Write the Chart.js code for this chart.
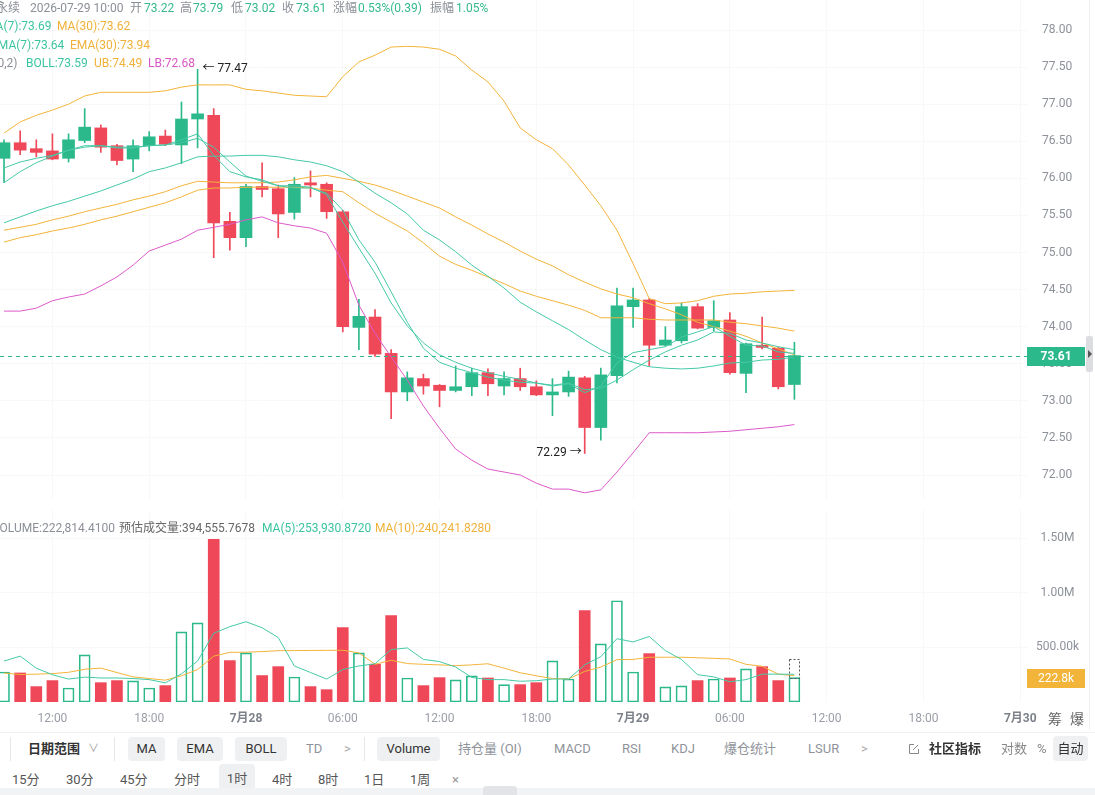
<!DOCTYPE html>
<html><head><meta charset="utf-8">
<script src="https://cdn.jsdelivr.net/npm/chart.js@4.4.1/dist/chart.umd.min.js"></script>
<style>
html,body{margin:0;padding:0;background:#fff;width:1095px;height:795px;overflow:hidden;font-family:Roboto,"Noto Sans CJK SC",sans-serif;}
#wrap{position:relative;width:1095px;height:795px;overflow:hidden;}
canvas{position:absolute;left:0;}
.t{position:absolute;white-space:nowrap;font-size:12px;line-height:16px;height:16px;}
.g{color:#8b8f97}.up{color:#35b98d}.teal{color:#3cc4a0}.org{color:#f0b13a}.mag{color:#d957c4}.dk{color:#666}
.tb{position:absolute;white-space:nowrap;font-size:13px;line-height:24px;height:24px;color:#8f939a;}
.tb.b{color:#333;font-weight:bold}
.chip{background:#eff0f2;border-radius:4px;text-align:center;color:#333;}
.sep{position:absolute;width:1px;background:#e6e7ea;top:737px;height:24px;}
</style></head>
<body><div id="wrap">
<canvas id="price" width="1085" height="500" style="top:0"></canvas>
<canvas id="vol" width="1085" height="230" style="top:500px"></canvas>

<!-- header rows -->
<div class="t g" style="left:-4px;top:0px">永续</div>
<div class="t g" style="left:30px;top:0px">2026-07-29 10:00</div>
<div class="t g" style="left:130px;top:0px">开</div><div class="t up" style="left:144px;top:0px">73.22</div>
<div class="t g" style="left:180px;top:0px">高</div><div class="t up" style="left:193px;top:0px">73.79</div>
<div class="t g" style="left:231px;top:0px">低</div><div class="t up" style="left:245px;top:0px">73.02</div>
<div class="t g" style="left:282px;top:0px">收</div><div class="t up" style="left:296px;top:0px">73.61</div>
<div class="t g" style="left:333px;top:0px">涨幅</div><div class="t up" style="left:358px;top:0px">0.53%(0.39)</div>
<div class="t g" style="left:430px;top:0px">振幅</div><div class="t up" style="left:456px;top:0px">1.05%</div>

<div class="t teal" style="left:-15px;top:18px">MA(7):73.69</div>
<div class="t org" style="left:57px;top:18px">MA(30):73.62</div>
<div class="t teal" style="left:-9px;top:37px">EMA(7):73.64</div>
<div class="t org" style="left:70px;top:37px">EMA(30):73.94</div>
<div class="t g" style="left:-42px;top:55px">BOLL(20,2)</div>
<div class="t teal" style="left:26px;top:55px">BOLL:73.59</div>
<div class="t org" style="left:94px;top:55px">UB:74.49</div>
<div class="t mag" style="left:148px;top:55px">LB:72.68</div>

<div class="t g" style="left:-8px;top:520px">VOLUME:222,814.4100</div>
<div class="t dk" style="left:119px;top:520px">预估成交量:394,555.7678</div>
<div class="t teal" style="left:262px;top:520px">MA(5):253,930.8720</div>
<div class="t org" style="left:375px;top:520px">MA(10):240,241.8280</div>

<div class="t" style="left:1048px;top:711px;font-size:14px;color:#666">筹</div>
<div class="t" style="left:1070px;top:711px;font-size:14px;color:#666">爆</div>

<!-- right border & handle -->
<div style="position:absolute;left:1089px;top:0;width:1px;height:730px;background:#eeeff1"></div>
<div style="position:absolute;left:1086px;top:336px;width:7px;height:36px;background:#dcdde0;border-radius:2px"></div>
<div style="position:absolute;left:1088px;top:350px;width:0;height:0;border-top:4px solid transparent;border-bottom:4px solid transparent;border-left:4px solid #555"></div>

<!-- toolbar -->
<div style="position:absolute;left:0;top:732px;width:1095px;height:1px;background:#f1f2f4"></div>
<div class="sep" style="left:10px"></div>
<div class="tb b" style="left:28px;top:737px">日期范围</div>
<div class="tb" style="left:88px;top:737px;font-size:11px;color:#999">∨</div>
<div class="sep" style="left:114px"></div>
<div class="tb chip" style="left:128px;top:737px;width:37px">MA</div>
<div class="tb chip" style="left:177px;top:737px;width:46px">EMA</div>
<div class="tb chip" style="left:235px;top:737px;width:52px">BOLL</div>
<div class="tb" style="left:306px;top:737px">TD</div>
<div class="tb" style="left:344px;top:737px;color:#aaa">&gt;</div>
<div class="sep" style="left:364px"></div>
<div class="tb chip" style="left:377px;top:737px;width:63px">Volume</div>
<div class="tb" style="left:458px;top:737px">持仓量 (OI)</div>
<div class="tb" style="left:554px;top:737px">MACD</div>
<div class="tb" style="left:622px;top:737px">RSI</div>
<div class="tb" style="left:671px;top:737px">KDJ</div>
<div class="tb" style="left:724px;top:737px">爆仓统计</div>
<div class="tb" style="left:808px;top:737px">LSUR</div>
<div class="tb" style="left:861px;top:737px;color:#aaa">&gt;</div>
<svg style="position:absolute;left:908px;top:743px" width="12" height="12" viewBox="0 0 12 12"><path d="M6 1.5H1.5v9h9V6" fill="none" stroke="#888" stroke-width="1"/><path d="M5 7l5-5" stroke="#888" stroke-width="1"/></svg>
<div class="tb b" style="left:929px;top:737px">社区指标</div>
<div class="tb" style="left:1001px;top:737px;color:#888">对数</div>
<div class="tb" style="left:1037px;top:737px;color:#888">%</div>
<div class="tb chip" style="left:1053px;top:736px;width:35px;height:25px;line-height:25px">自动</div>

<div class="tb" style="left:12px;top:768px;color:#555">15分</div>
<div class="tb" style="left:66px;top:768px;color:#555">30分</div>
<div class="tb" style="left:120px;top:768px;color:#555">45分</div>
<div class="tb" style="left:174px;top:768px;color:#555">分时</div>
<div class="tb chip" style="left:219px;top:764px;width:36px;height:30px;line-height:30px;color:#555">1时</div>
<div class="tb" style="left:272px;top:768px;color:#555">4时</div>
<div class="tb" style="left:318px;top:768px;color:#555">8时</div>
<div class="tb" style="left:364px;top:768px;color:#555">1日</div>
<div class="tb" style="left:410px;top:768px;color:#555">1周</div>
<div class="tb" style="left:452px;top:768px;color:#999">×</div>
<div style="position:absolute;left:0;top:788px;width:1095px;height:7px;background:#f2f3f5"></div>
<div style="position:absolute;left:483px;top:786px;width:34px;height:9px;background:#e3e4e7;border-radius:3px 3px 0 0"></div>
</div>
<script>
// hour offset from 2026-07-27 00:00 (1h candles, 07-27 09:00 .. 07-29 10:00)
const hours = [9,10,11,12,13,14,15,16,17,18,19,20,21,22,23,24,25,26,27,28,29,30,31,32,33,34,35,36,37,38,39,40,41,42,43,44,45,46,47,48,49,50,51,52,53,54,55,56,57,58];
const openP  = [76.27,76.48,76.40,76.37,76.27,76.51,76.68,76.44,76.26,76.44,76.57,76.45,76.80,76.85,75.42,75.20,75.89,75.86,75.54,75.94,75.92,75.55,73.99,74.13,73.64,73.12,73.30,73.21,73.14,73.19,73.38,73.20,73.30,73.19,73.08,73.12,73.31,72.64,73.34,74.27,74.36,73.75,73.81,74.27,73.99,74.09,73.37,73.75,73.71,73.22];
const highP  = [76.52,76.64,76.52,76.60,76.60,76.94,76.72,76.46,76.52,76.63,76.65,77.03,77.47,76.94,75.54,75.92,76.21,75.91,76.01,76.10,75.94,75.57,74.37,74.23,73.69,73.39,73.36,73.22,73.47,73.44,73.43,73.39,73.44,73.27,73.30,73.40,73.33,73.44,74.52,74.52,74.38,74.00,74.32,74.31,74.35,74.19,73.78,74.13,73.72,73.79];
const lowP   = [75.94,76.32,76.29,76.25,76.22,76.48,76.35,76.18,76.09,76.37,76.44,76.20,76.41,74.93,75.03,75.08,75.75,75.20,75.45,75.75,75.46,73.93,73.69,73.60,72.76,73.00,73.09,72.92,73.12,73.07,73.07,73.08,73.14,73.07,72.80,73.06,72.29,72.47,73.24,73.99,73.47,73.74,73.78,73.97,73.94,73.36,73.11,73.70,73.16,73.02];
const closeP = [76.48,76.38,76.35,76.26,76.52,76.69,76.42,76.24,76.44,76.56,76.46,76.80,76.87,75.40,75.20,75.89,75.85,75.52,75.92,75.91,75.55,74.00,74.14,73.63,73.12,73.31,73.20,73.14,73.19,73.38,73.23,73.30,73.19,73.08,73.12,73.32,72.64,73.35,74.28,74.36,73.75,73.82,74.27,73.98,74.08,73.38,73.77,73.72,73.19,73.61];

const ma7   = [75.94,76.09,76.21,76.30,76.38,76.42,76.44,76.42,76.42,76.44,76.45,76.48,76.54,76.42,76.22,76.03,75.96,75.90,75.87,75.87,75.80,75.57,75.17,74.87,74.47,74.06,73.71,73.52,73.44,73.38,73.32,73.28,73.25,73.24,73.21,73.24,73.15,73.17,73.28,73.42,73.55,73.66,73.75,73.82,73.93,73.91,73.82,73.78,73.73,73.69];
const ma30  = [75.30,75.34,75.38,75.44,75.49,75.55,75.60,75.65,75.71,75.76,75.82,75.90,75.96,75.95,75.94,75.94,75.94,75.95,75.98,76.02,76.04,76.00,75.96,75.91,75.84,75.76,75.68,75.60,75.48,75.37,75.25,75.14,75.02,74.91,74.82,74.70,74.60,74.51,74.44,74.39,74.31,74.24,74.16,74.06,74.00,73.94,73.87,73.78,73.70,73.62];
const ema7  = [76.14,76.22,76.27,76.31,76.38,76.44,76.44,76.41,76.41,76.44,76.45,76.52,76.60,76.31,76.09,76.02,75.98,75.90,75.90,75.88,75.78,75.41,75.06,74.72,74.32,74.01,73.78,73.62,73.52,73.44,73.38,73.33,73.29,73.24,73.20,73.23,73.11,73.20,73.51,73.65,73.69,73.73,73.86,73.93,74.00,73.87,73.75,73.74,73.66,73.64];
const ema30 = [75.14,75.20,75.24,75.29,75.33,75.38,75.44,75.49,75.55,75.61,75.67,75.75,75.84,75.87,75.87,75.88,75.88,75.88,75.88,75.87,75.84,75.82,75.67,75.53,75.41,75.29,75.13,74.95,74.84,74.76,74.67,74.58,74.48,74.41,74.35,74.29,74.22,74.12,74.12,74.12,74.10,74.09,74.09,74.09,74.09,74.06,74.04,74.01,73.98,73.94];
const boll  = [75.40,75.48,75.56,75.63,75.69,75.76,75.83,75.91,75.99,76.09,76.14,76.21,76.29,76.30,76.30,76.31,76.31,76.29,76.25,76.22,76.17,76.09,75.95,75.80,75.67,75.52,75.30,75.17,75.01,74.83,74.68,74.52,74.33,74.20,74.08,73.96,73.82,73.69,73.59,73.52,73.46,73.44,73.43,73.44,73.47,73.51,73.52,73.55,73.56,73.59];
const bollUB= [76.61,76.76,76.85,76.92,77.00,77.11,77.16,77.16,77.16,77.16,77.18,77.23,77.26,77.26,77.26,77.20,77.18,77.15,77.12,77.11,77.10,77.37,77.57,77.66,77.77,77.78,77.77,77.74,77.65,77.46,77.30,77.04,76.68,76.52,76.40,76.18,75.91,75.63,75.30,74.85,74.38,74.31,74.32,74.35,74.41,74.44,74.45,74.47,74.48,74.49];
const bollLB= [74.21,74.21,74.25,74.35,74.40,74.44,74.55,74.67,74.83,75.02,75.10,75.18,75.30,75.34,75.38,75.44,75.48,75.40,75.36,75.33,75.26,74.87,74.29,73.91,73.59,73.28,72.93,72.63,72.35,72.20,72.08,72.04,72.00,71.89,71.81,71.81,71.76,71.80,72.04,72.30,72.57,72.57,72.57,72.57,72.58,72.59,72.61,72.63,72.65,72.68];

// volume in thousands
const volumeK = [275,266,141,196,128,431,177,196,193,128,150,642,725,1489,379,450,242,324,229,141,113,682,450,346,792,220,150,223,202,239,220,159,159,177,376,211,838,532,927,275,443,138,147,196,211,220,303,324,196,222.81441];
const volMa5K = [375,420,310,250,210,228,220,220,215,205,175,258,375,630,690,735,680,590,330,270,210,297,330,350,480,495,390,370,320,225,205,205,190,195,210,211,340,415,580,550,600,470,390,250,230,185,205,255,255,253.93];
const volMa10K= [265,252,255,260,272,300,310,270,230,215,200,240,297,420,455,456,462,470,471,472,473,474,450,345,382,352,345,340,333,340,350,310,268,240,215,211,280,320,388,390,410,410,410,405,400,394,345,327,255,240.24];
const estVolK = 394.5557678;

const xTickHours  = [12,18,24,30,36,42,48,54,60,66,72];
const xTickLabels = ['12:00','18:00','7月28','06:00','12:00','18:00','7月29','06:00','12:00','18:00','7月30'];
const priceTicks  = [72,72.5,73,73.5,74,74.5,75,75.5,76,76.5,77,77.5,78];
const volTicks    = [500,1000,1500];
const volTickLabels = ['500.00k','1.00M','1.50M'];

const GREEN='#2bb98b', RED='#ef4859', TEAL='#45c9a6', ORANGE='#f3b43a', MAGENTA='#dc5ac8';
const GRID='#f8f8f9', TICK='#8d9199';
const FONT='Roboto, "Noto Sans CJK SC", sans-serif';
const X_MIN=8.75, X_MAX=72.42;

const isUp = closeP.map((c,i)=>c>=openP[i]);
const candleColor = isUp.map(u=>u?GREEN:RED);
const pts = arr => arr.map((v,i)=>({x:hours[i], y:v}));
const line = (arr,color,order) => ({type:'line', data:pts(arr), borderColor:color, borderWidth:1, pointRadius:0, tension:0, order:order, fill:false});

const pricePlugin = {
  id:'priceDeco',
  afterDraw(chart){
    const {ctx, chartArea:a, scales:{x,y}} = chart;
    ctx.save();
    let hi=0, lo=0;
    highP.forEach((v,i)=>{ if(v>highP[hi]) hi=i; });
    lowP.forEach((v,i)=>{ if(v<lowP[lo]) lo=i; });
    ctx.font='12px '+FONT; ctx.fillStyle='#222'; ctx.textBaseline='middle';
    ctx.textAlign='left';
    ctx.fillText('← '+highP[hi].toFixed(2), x.getPixelForValue(hours[hi])+5, y.getPixelForValue(highP[hi]));
    ctx.textAlign='right';
    ctx.fillText(lowP[lo].toFixed(2)+' →', x.getPixelForValue(hours[lo])-3, y.getPixelForValue(lowP[lo]));
    const last = closeP[closeP.length-1];
    const py = Math.round(y.getPixelForValue(last))+0.5;
    ctx.strokeStyle=GREEN; ctx.lineWidth=1; ctx.setLineDash([4,4]);
    ctx.beginPath(); ctx.moveTo(a.left,py); ctx.lineTo(a.right,py); ctx.stroke();
    ctx.setLineDash([]);
    ctx.fillStyle=GREEN; ctx.fillRect(a.right, py-9.5, 58, 19);
    ctx.fillStyle='#fff'; ctx.font='bold 12px '+FONT; ctx.textAlign='center';
    ctx.fillText(last.toFixed(2), a.right+29, py+0.5);
    ctx.restore();
  }
};

new Chart(document.getElementById('price'), {
  type:'bar',
  data:{datasets:[
    line(ma7,TEAL,0), line(ema7,TEAL,0), line(boll,TEAL,0),
    line(ma30,ORANGE,0), line(ema30,ORANGE,0), line(bollUB,ORANGE,0),
    line(bollLB,MAGENTA,0),
    {type:'bar', data:hours.map((h,i)=>({x:h, y:[openP[i],closeP[i]]})), backgroundColor:candleColor, barThickness:12, minBarLength:1, grouped:false, order:1},
    {type:'bar', data:hours.map((h,i)=>({x:h, y:[lowP[i],highP[i]]})), backgroundColor:candleColor, barThickness:1, grouped:false, order:2}
  ]},
  options:{
    responsive:false, animation:false, events:[],
    layout:{padding:0},
    plugins:{legend:{display:false}, tooltip:{enabled:false}},
    scales:{
      x:{type:'linear', min:X_MIN, max:X_MAX, offset:false,
         grid:{color:GRID, drawTicks:false, offset:false}, border:{display:false}, ticks:{display:false},
         afterBuildTicks:s=>{ s.ticks = xTickHours.map(v=>({value:v})); },
         afterFit:s=>{ s.height=0; s.paddingLeft=0; s.paddingRight=0; }},
      y:{position:'right', min:71.663, max:78.4045,
         grid:{color:GRID, drawTicks:false, offset:false}, border:{display:false},
         ticks:{color:TICK, font:{size:12, family:FONT}, padding:15, crossAlign:'center', callback:v=>Number(v).toFixed(2)},
         afterBuildTicks:s=>{ s.ticks = priceTicks.map(v=>({value:v})); },
         afterFit:s=>{ s.width=58; s.paddingTop=0; s.paddingBottom=0; }}
    }
  },
  plugins:[pricePlugin]
});

const volPlugin = {
  id:'volDeco',
  afterDraw(chart){
    const {ctx, chartArea:a, scales:{x,y}} = chart;
    ctx.save();
    const n = volumeK.length-1;
    const cx = x.getPixelForValue(hours[n]);
    const y1 = y.getPixelForValue(volumeK[n]), y2 = y.getPixelForValue(estVolK);
    ctx.strokeStyle='#555'; ctx.lineWidth=1; ctx.setLineDash([2,2]);
    ctx.strokeRect(Math.round(cx-5.5)+0.5, Math.round(y2)+0.5, 10, Math.round(y1-y2));
    ctx.setLineDash([]);
    const ty = Math.round(y1)+0.5;
    ctx.fillStyle=ORANGE; ctx.fillRect(a.right, ty-9.5, 58, 19);
    ctx.fillStyle='#fff'; ctx.font='12px '+FONT; ctx.textAlign='center'; ctx.textBaseline='middle';
    ctx.fillText(volumeK[n].toFixed(1)+'k', a.right+29, ty+0.5);
    ctx.restore();
  }
};

new Chart(document.getElementById('vol'), {
  type:'bar',
  data:{datasets:[
    line(volMa5K,TEAL,0), line(volMa10K,ORANGE,0),
    {type:'bar', data:hours.map((h,i)=>({x:h, y:volumeK[i]})),
     backgroundColor:isUp.map(u=>u?'rgba(255,255,255,0)':RED),
     borderColor:isUp.map(u=>u?GREEN:RED), borderWidth:isUp.map(u=>u?1:0), borderSkipped:false,
     barThickness:11, grouped:false, order:1}
  ]},
  options:{
    responsive:false, animation:false, events:[],
    layout:{padding:{top:10,left:0,right:0,bottom:0}},
    plugins:{legend:{display:false}, tooltip:{enabled:false}},
    scales:{
      x:{type:'linear', min:X_MIN, max:X_MAX, offset:false,
         grid:{color:GRID, drawTicks:false, offset:false}, border:{display:false},
         ticks:{autoSkip:false, maxRotation:0, padding:10,
                color:c=> (xTickLabels[c.index]||'').includes('月') ? '#7d8189' : '#9a9ea6',
                font:c=>({size:12, family:FONT, weight:(xTickLabels[c.index]||'').includes('月')?'bold':'normal'}),
                callback:(v,i)=>xTickLabels[i]},
         afterBuildTicks:s=>{ s.ticks = xTickHours.map(v=>({value:v})); },
         afterFit:s=>{ s.height=28; s.paddingLeft=0; s.paddingRight=0; }},
      y:{position:'right', min:0, max:1758.2,
         grid:{color:GRID, drawTicks:false, offset:false}, border:{display:false},
         ticks:{color:TICK, font:{size:12, family:FONT}, padding:9, crossAlign:'center', callback:(v,i)=>volTickLabels[i]},
         afterBuildTicks:s=>{ s.ticks = volTicks.map(v=>({value:v})); },
         afterFit:s=>{ s.width=58; s.paddingTop=0; s.paddingBottom=0; }}
    }
  },
  plugins:[volPlugin]
});
</script>
</body></html>
